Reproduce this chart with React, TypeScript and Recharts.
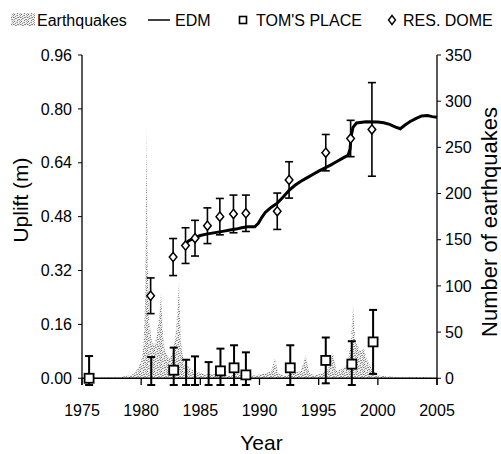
import React from "react";
import { ComposedChart, XAxis, YAxis, Line, Area, Scatter, ErrorBar, ReferenceLine, Label } from "recharts";

const yearTicks = [1975, 1980, 1985, 1990, 1995, 2000, 2005];
const upliftTicks = [0, 0.16, 0.32, 0.48, 0.64, 0.8, 0.96];
const quakeTicks = [0, 50, 100, 150, 200, 250, 300, 350];

// earthquakes per interval (right axis)
const quakeYear = [
    1975, 1976, 1977, 1978, 1978.5, 1979, 1979.4, 1979.7, 1980, 1980.2, 1980.35, 1980.45, 1980.55, 1980.7,
    1980.9, 1981.1, 1981.3, 1981.55, 1981.68, 1981.8, 1982, 1982.3, 1982.6, 1982.9, 1983.1, 1983.2, 1983.35,
    1983.6, 1984, 1984.5, 1985, 1985.5, 1986, 1986.5, 1987, 1987.5, 1988, 1988.5, 1989, 1989.5, 1990,
    1990.5, 1991, 1991.3, 1991.6, 1992, 1992.5, 1993, 1993.5, 1993.9, 1994.2, 1994.6, 1995, 1995.4, 1995.8,
    1996.2, 1996.5, 1997, 1997.4, 1997.7, 1997.9, 1998.1, 1998.5, 1998.8, 1999.1, 1999.5, 2000, 2001, 2002,
    2003, 2004, 2005,
];
const quakeCount = [
    0, 1, 1, 1, 2, 3, 5, 10, 18, 35, 90, 274, 120, 60,
    40, 35, 45, 70, 92, 55, 30, 22, 25, 45, 80, 105, 40,
    18, 12, 8, 6, 4, 5, 3, 4, 3, 5, 3, 2, 3, 4,
    5, 8, 21, 5, 3, 4, 6, 8, 25, 6, 3, 4, 6, 10,
    28, 8, 10, 15, 35, 79, 40, 30, 32, 20, 10, 3, 2, 1,
    1, 1, 0,
];

// EDM uplift (m)
const edmYear = [
    1983.5, 1984, 1984.5, 1985, 1985.5, 1986, 1986.5, 1987, 1987.5, 1988, 1988.5, 1989, 1989.6, 1989.9,
    1990.2, 1990.5, 1991, 1991.5, 1992, 1992.5, 1993, 1993.5, 1994, 1994.5, 1995, 1995.5, 1996, 1996.5,
    1997, 1997.5, 1997.65, 1997.75, 1997.9, 1998.2, 1999, 2000, 2000.5, 2001, 2001.5, 2001.9, 2002.3,
    2002.7, 2003.2, 2003.7, 2004.2, 2004.6, 2005,
];
const edmUplift = [
    0.39, 0.408, 0.417, 0.424, 0.428, 0.431, 0.434, 0.437, 0.44, 0.443, 0.447, 0.45, 0.45, 0.46,
    0.478, 0.493, 0.508, 0.52, 0.538, 0.558, 0.573, 0.585, 0.595, 0.605, 0.615, 0.624, 0.633, 0.643,
    0.653, 0.663, 0.68, 0.72, 0.745, 0.758, 0.762, 0.761, 0.759, 0.754, 0.746, 0.741, 0.752,
    0.762, 0.771, 0.779, 0.78, 0.777, 0.775,
];

// Tom's Place levelling: value, visible lower and upper error extents (m)
// (points whose value lies below the plot edge only show their error bar)
const tpYear = [1975.6, 1980.85, 1982.75, 1983.8, 1984.55, 1985.7, 1986.7, 1987.85, 1988.85, 1992.6, 1995.6, 1997.8, 1999.6];
const tpUplift = [0.0, -0.02, 0.024, -0.02, -0.02, -0.02, 0.022, 0.031, 0.01, 0.031, 0.053, 0.042, 0.108];
const tpErrorLow = [0.02, 0, 0.044, 0, 0, 0, 0.042, 0.051, 0.03, 0.051, 0.068, 0.062, 0.095];
const tpErrorHigh = [0.066, 0.083, 0.067, 0.075, 0.085, 0.068, 0.066, 0.067, 0.067, 0.067, 0.068, 0.068, 0.095];

// Resurgent dome levelling
const rdYear = [1980.8, 1982.7, 1983.75, 1984.55, 1985.6, 1986.65, 1987.8, 1988.85, 1991.5, 1992.5, 1995.6, 1997.7, 1999.5];
const rdUplift = [0.245, 0.36, 0.394, 0.416, 0.453, 0.48, 0.488, 0.49, 0.496, 0.589, 0.67, 0.712, 0.739];
const rdError = [0.053, 0.055, 0.053, 0.053, 0.053, 0.054, 0.056, 0.054, 0.054, 0.054, 0.054, 0.054, 0.139];

const quakeData = quakeYear.map((year, i) => ({ year, n: quakeCount[i] }));
const edmData = edmYear.map((year, i) => ({ year, v: edmUplift[i] }));
const tpData = tpYear.map((year, i) => ({ year, v: tpUplift[i], e: [tpErrorLow[i], tpErrorHigh[i]] }));
const rdData = rdYear.map((year, i) => ({ year, v: rdUplift[i], e: rdError[i] }));

const font = '"Liberation Sans", Arial, Helvetica, sans-serif';
const upliftFloor = -0.02;
const upliftMax = 0.96;
const quakeMax = 350;

function SquareMark(props: any) {
    const { cx, cy, payload } = props;
    if (cx == null || cy == null || (payload && payload.v < 0)) return null;
    return <rect x={cx - 4.5} y={cy - 4.5} width={9} height={9} fill="#fff" stroke="#000" strokeWidth={1.8} />;
}

function DiamondMark(props: any) {
    const { cx, cy } = props;
    if (cx == null || cy == null) return null;
    const pts = `${cx},${cy - 4.6} ${cx + 3.8},${cy} ${cx},${cy + 4.6} ${cx - 3.8},${cy}`;
    return <polygon points={pts} fill="#fff" stroke="#000" strokeWidth={1.5} />;
}

function YearTick(props: any) {
    const { x, y, payload } = props;
    return (
        <g>
            <line x1={x} x2={x} y1={y - 7} y2={y} stroke="#000" strokeWidth={1.3} />
            <text x={x} y={y + 31} textAnchor="middle" fontSize={16} fontFamily={font} fill="#000">
                {payload.value}
            </text>
        </g>
    );
}

// speckled grey texture like the printed stipple
const specks = [
    [0, 0, "#6e6e6e"], [3, 1, "#8e8e8e"], [5, 0, "#a6a6a6"], [1, 2, "#969696"], [6, 3, "#7e7e7e"],
    [2, 4, "#aaaaaa"], [4, 3, "#858585"], [0, 5, "#9c9c9c"], [5, 5, "#909090"], [3, 6, "#7c7c7c"],
    [6, 6, "#b4b4b4"], [2, 1, "#b8b8b8"], [4, 5, "#a0a0a0"], [1, 4, "#8a8a8a"], [5, 2, "#b0b0b0"],
    [3, 3, "#9a9a9a"], [0, 3, "#bcbcbc"], [6, 1, "#989898"],
];

function Stipple({ id }: { id: string }) {
    return (
        <pattern id={id} width={7} height={7} patternUnits="userSpaceOnUse">
            <rect width={7} height={7} fill="#ededed" />
            {specks.map(([x, y, c], i) => (
                <rect key={i} x={x as number} y={y as number} width={1} height={1} fill={c as string} />
            ))}
        </pattern>
    );
}

function ChartLegend() {
    const txt = { fontSize: 16, fontFamily: font, fill: "#000" };
    return (
        <svg width={501} height={40} style={{ position: "absolute", left: 0, top: 0 }}>
            <defs>
                <Stipple id="stippleLegend" />
            </defs>
            <rect x={11} y={13} width={24} height={13} fill="url(#stippleLegend)" />
            <text x={37} y={26} {...txt}>Earthquakes</text>
            <line x1={148} x2={170} y1={20} y2={20} stroke="#000" strokeWidth={1.5} />
            <text x={175} y={26} {...txt}>EDM</text>
            <rect x={239.5} y={16.5} width={7} height={7} fill="#fff" stroke="#000" strokeWidth={1.6} />
            <text x={256} y={26} {...txt}>TOM'S PLACE</text>
            <polygon points="392,15.5 395.5,20 392,24.5 388.5,20" fill="#fff" stroke="#000" strokeWidth={1.4} />
            <text x={403} y={26} {...txt}>RES. DOME</text>
        </svg>
    );
}

export default function App() {
    const tickStyle = { fontSize: 16, fill: "#000", fontFamily: font };
    return (
        <div style={{ position: "absolute", left: 0, top: 0, width: 501, height: 454, background: "#fff", fontFamily: font }}>
            <ComposedChart width={501} height={454} margin={{ top: 55, right: 0, bottom: 0, left: 0 }}>
                <defs>
                    <Stipple id="stipple" />
                </defs>
                <XAxis
                    dataKey="year"
                    type="number"
                    domain={[1975, 2005]}
                    ticks={yearTicks}
                    height={69}
                    axisLine={false}
                    tickLine={false}
                    tickSize={0}
                    tickMargin={0}
                    tick={<YearTick />}
                    interval={0}
                >
                    <Label
                        content={({ viewBox }: any) => (
                            <text x={viewBox.x + viewBox.width / 2 + 2} y={viewBox.y + 65} textAnchor="middle" fontSize={21} fontFamily={font} fill="#000">
                                Year
                            </text>
                        )}
                    />
                </XAxis>
                <YAxis
                    yAxisId="left"
                    type="number"
                    domain={[upliftFloor, upliftMax]}
                    allowDataOverflow
                    ticks={upliftTicks}
                    interval={0}
                    tickFormatter={(v: number) => v.toFixed(2)}
                    width={82}
                    axisLine={{ stroke: "#000", strokeWidth: 1.3 }}
                    tickLine={{ stroke: "#000", strokeWidth: 1 }}
                    tickSize={4}
                    tickMargin={6}
                    tick={tickStyle}
                >
                    <Label
                        content={({ viewBox }: any) => (
                            <text x={28} y={viewBox.y + 145} transform={`rotate(-90, 28, ${viewBox.y + 145})`} textAnchor="middle" fontSize={21} fontFamily={font} fill="#000">
                                Uplift (m)
                            </text>
                        )}
                    />
                </YAxis>
                <YAxis
                    yAxisId="right"
                    orientation="right"
                    type="number"
                    domain={[(upliftFloor * quakeMax) / upliftMax, quakeMax]}
                    allowDataOverflow
                    ticks={quakeTicks}
                    interval={0}
                    width={64}
                    axisLine={{ stroke: "#000", strokeWidth: 1.3 }}
                    tickLine={{ stroke: "#000", strokeWidth: 1 }}
                    tickSize={4}
                    tickMargin={4}
                    tick={tickStyle}
                >
                    <Label
                        content={({ viewBox }: any) => (
                            <text x={viewBox.x + 60} y={viewBox.y + 167} transform={`rotate(-90, ${viewBox.x + 60}, ${viewBox.y + 167})`} textAnchor="middle" fontSize={22} fontFamily={font} fill="#000">
                                Number of earthquakes
                            </text>
                        )}
                    />
                </YAxis>
                <Area
                    yAxisId="right"
                    data={quakeData}
                    dataKey="n"
                    type="linear"
                    stroke="none"
                    fill="url(#stipple)"
                    fillOpacity={1}
                    baseValue={0}
                    isAnimationActive={false}
                />
                <ReferenceLine yAxisId="left" y={0} stroke="#000" strokeWidth={1.5} />
                <Line
                    yAxisId="left"
                    data={edmData}
                    dataKey="v"
                    type="linear"
                    stroke="#000"
                    strokeWidth={3}
                    dot={false}
                    isAnimationActive={false}
                />
                <Scatter yAxisId="left" data={tpData} dataKey="v" shape={SquareMark} isAnimationActive={false}>
                    <ErrorBar dataKey="e" direction="y" width={4} stroke="#000" strokeWidth={2} />
                </Scatter>
                <Scatter yAxisId="left" data={rdData} dataKey="v" shape={DiamondMark} isAnimationActive={false}>
                    <ErrorBar dataKey="e" direction="y" width={4} stroke="#000" strokeWidth={1.6} />
                </Scatter>
            </ComposedChart>
            <ChartLegend />
        </div>
    );
}
